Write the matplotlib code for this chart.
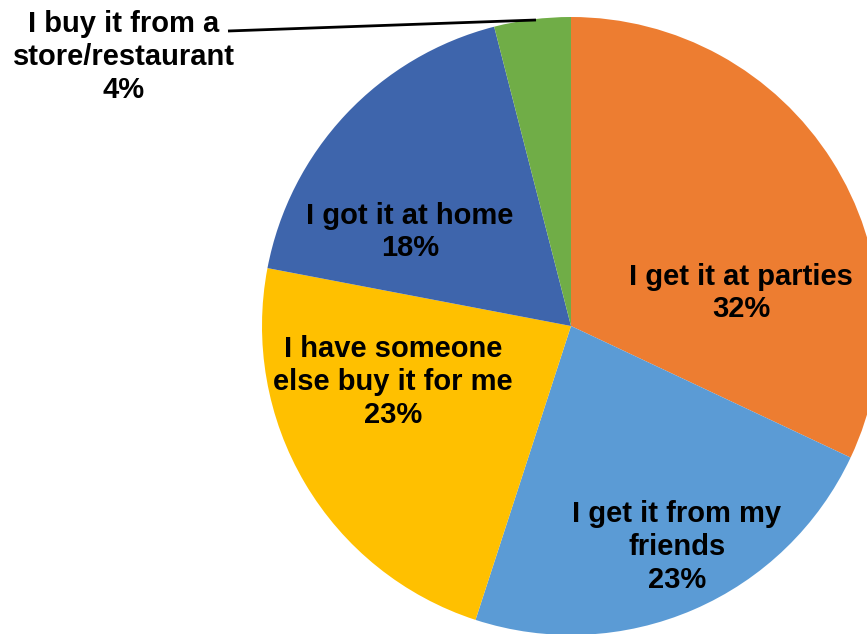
import matplotlib
matplotlib.use("Agg")
import matplotlib.pyplot as plt

categories = ["I get it at parties", "I get it from my\nfriends", "I have someone\nelse buy it for me",
              "I got it at home", "I buy it from a\nstore/restaurant"]
values = [32, 23, 23, 18, 4]
colors = ["#ED7D31", "#5B9BD5", "#FFC000", "#3E65AC", "#70AD47"]

W, H = 867, 634
cx, cy, R = 571, 326, 309

fig = plt.figure(figsize=(W / 100, H / 100), dpi=100)
ax = fig.add_axes([0, 0, 1, 1])
ax.pie(values, colors=colors, startangle=90, counterclock=False, radius=1,
       wedgeprops=dict(linewidth=0))
ax.set_xlim(-cx / R, (W - cx) / R)
ax.set_ylim(-(H - cy) / R, cy / R)
ax.set_aspect("auto")
ax.axis("off")

def d(px, py):
    return (px - cx) / R, (cy - py) / R

label_px = [(741, 293), (677, 547), (393, 382), (410, 232), (124, 57)]
for cat, v, (px, py) in zip(categories, values, label_px):
    x, y = d(px, py)
    ax.text(x, y, f"{cat}\n{v}%", ha="center", va="center", fontsize=21,
            fontweight="bold", family="Liberation Sans", linespacing=1.22, color="black")

x0, y0 = d(228, 31)
x1, y1 = d(536, 20)
ax.plot([x0, x1], [y0, y1], color="black", lw=2, solid_capstyle="butt")

fig.savefig("out.png", dpi=100)
